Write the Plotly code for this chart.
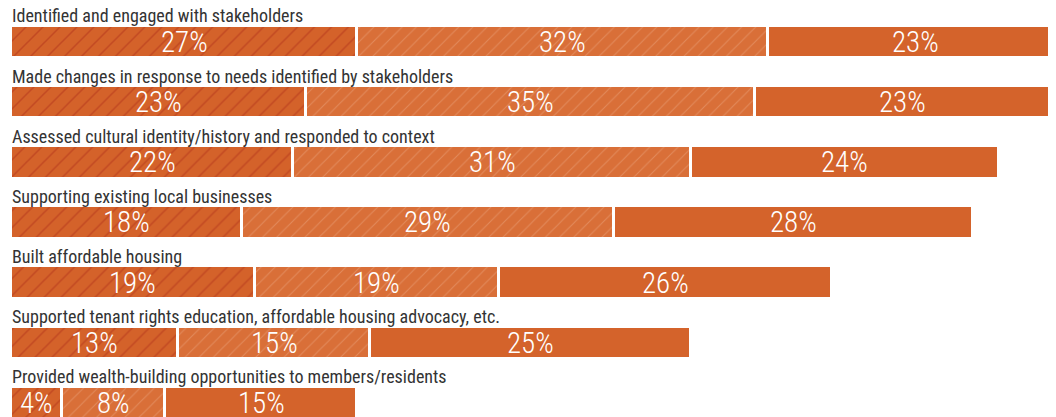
import plotly.graph_objects as go

categories = [
    "Identified and engaged with stakeholders",
    "Made changes in response to needs identified by stakeholders",
    "Assessed cultural identity/history and responded to context",
    "Supporting existing local businesses",
    "Built affordable housing",
    "Supported tenant rights education, affordable housing advocacy, etc.",
    "Provided wealth-building opportunities to members/residents",
]
seg1 = [27, 23, 22, 18, 19, 13, 4]
seg2 = [32, 35, 31, 29, 19, 15, 8]
seg3 = [23, 23, 24, 28, 26, 25, 15]

FONT = "Liberation Sans Narrow, Roboto Condensed, Arial Narrow, Roboto, sans-serif"

fig = go.Figure()
styles = [
    dict(color="#D4622A", pattern=dict(shape="/", bgcolor="#D4622A", fgcolor="#B0301A", size=12, solidity=0.13)),
    dict(color="#D96F38", pattern=dict(shape="/", bgcolor="#D96F38", fgcolor="rgba(255,235,220,0.45)", size=10, solidity=0.1)),
    dict(color="#D4632B"),
]
for vals, st in zip([seg1, seg2, seg3], styles):
    fig.add_trace(go.Bar(
        y=categories, x=vals, orientation="h", width=0.54,
        marker=dict(line=dict(color="white", width=3), **st),
        hoverinfo="skip", showlegend=False,
    ))

annotations = []
for i, cat in enumerate(categories):
    annotations.append(dict(
        x=0, y=cat, xref="x", yref="y", text=cat, showarrow=False,
        xanchor="left", yanchor="middle", yshift=26, xshift=-1,
        font=dict(family=FONT, size=18, color="#333333"),
    ))
    start = 0
    for vals in (seg1, seg2, seg3):
        v = vals[i]
        annotations.append(dict(
            x=start + v / 2, y=cat, xref="x", yref="y", text=f"{v}%",
            showarrow=False, xanchor="center", yanchor="middle", yshift=0,
            font=dict(family=FONT, size=29, color="white", weight=300),
        ))
        start += v

fig.update_layout(
    barmode="stack", bargap=0,
    width=1048, height=409,
    margin=dict(l=3, r=0, t=0, b=0),
    plot_bgcolor="white", paper_bgcolor="white",
    xaxis=dict(range=[0, 81.45], showgrid=False, zeroline=False, showticklabels=False, ticks=""),
    yaxis=dict(range=[6.233, -0.565], showgrid=False, zeroline=False, showticklabels=False, ticks=""),
    annotations=annotations,
)

fig.write_html("out.html")
